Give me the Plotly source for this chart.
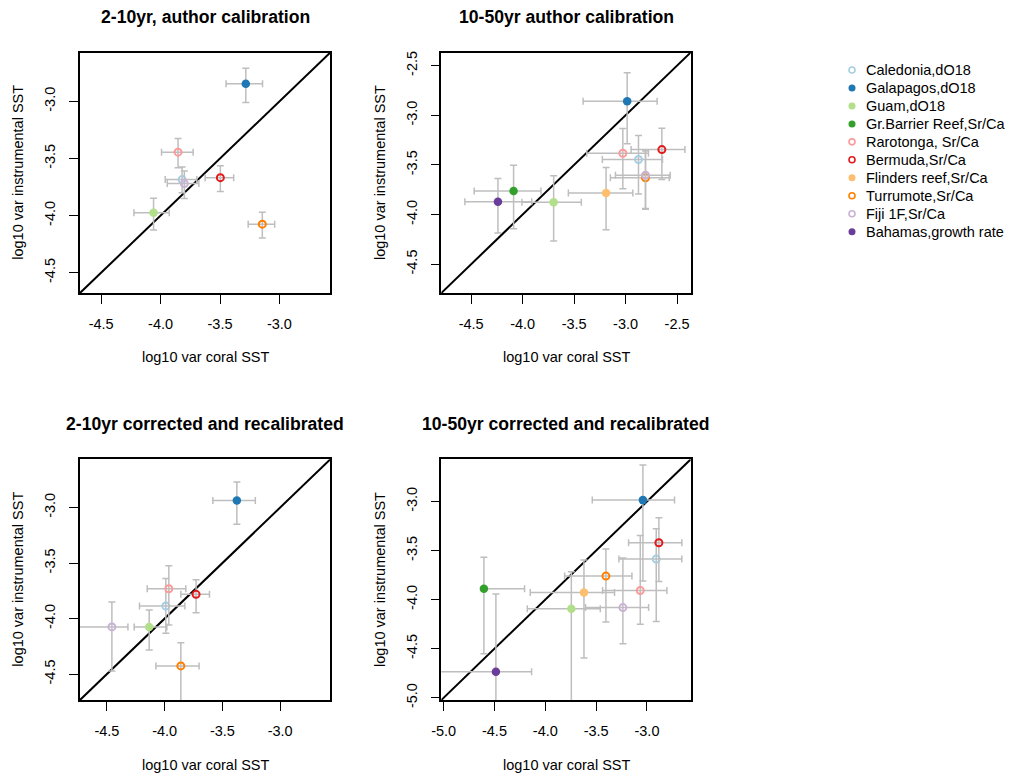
import plotly.graph_objects as go

FONT = "Liberation Sans, Arial, Helvetica, sans-serif"

# ---------------- data ----------------
sites = ["Caledonia,dO18", "Galapagos,dO18", "Guam,dO18", "Gr.Barrier Reef,Sr/Ca",
         "Rarotonga, Sr/Ca", "Bermuda,Sr/Ca", "Flinders reef,Sr/Ca", "Turrumote,Sr/Ca",
         "Fiji 1F,Sr/Ca", "Bahamas,growth rate"]
site_colors = ["#A6CEE3", "#1F78B4", "#B2DF8A", "#33A02C", "#FB9A99",
               "#E31A1C", "#FDBF6F", "#FF7F00", "#CAB2D6", "#6A3D9A"]
site_filled = [False, True, True, True, False, False, True, False, False, True]

panel_titles = ["2-10yr, author calibration", "10-50yr author calibration",
                "2-10yr corrected and recalibrated", "10-50yr corrected and recalibrated"]

# Panel 1: 2-10yr, author calibration
p1_x   = [-3.819, -3.283, -4.059, None, -3.853, -3.497, None, -3.144, -3.800, None]
p1_xlo = [-3.961, -3.449, -4.224, None, -3.992, -3.625, None, -3.263, -3.944, None]
p1_xhi = [-3.695, -3.142, -3.927, None, -3.726, -3.385, None, -3.040, -3.678, None]
p1_y   = [-3.685, -2.846, -3.976, None, -3.445, -3.668, None, -4.075, -3.720, None]
p1_ylo = [-3.800, -3.009, -4.127, None, -3.581, -3.790, None, -4.197, -3.851, None]
p1_yhi = [-3.575, -2.709, -3.848, None, -3.325, -3.563, None, -3.970, -3.610, None]

# Panel 2: 10-50yr author calibration
p2_x   = [-2.875, -2.985, -3.699, -4.088, -3.027, -2.648, -3.190, -2.807, -2.807, -4.240]
p2_xlo = [-3.226, -3.413, -4.007, -4.471, -3.377, -2.947, -3.556, -3.148, -3.099, -4.561]
p2_xhi = [-2.642, -2.694, -3.430, -3.822, -2.778, -2.424, -2.930, -2.577, -2.567, -3.912]
p2_y   = [-3.446, -2.860, -3.876, -3.763, -3.383, -3.346, -3.783, -3.630, -3.603, -3.870]
p2_ylo = [-3.793, -3.286, -4.266, -4.143, -3.740, -3.646, -4.153, -3.946, -3.940, -4.186]
p2_yhi = [-3.203, -2.573, -3.610, -3.503, -3.133, -3.130, -3.526, -3.360, -3.350, -3.636]

# Panel 3: 2-10yr corrected and recalibrated
p3_x   = [-3.990, -3.375, -4.134, None, -3.964, -3.728, None, -3.860, -4.457, None]
p3_xlo = [-4.218, -3.583, -4.264, None, -4.151, -3.860, None, -4.076, -4.900, None]
p3_xhi = [-3.825, -3.215, -3.981, None, -3.817, -3.612, None, -3.702, -4.318, None]
p3_y   = [-3.887, -2.937, -4.075, None, -3.731, -3.782, None, -4.426, -4.075, None]
p3_ylo = [-4.132, -3.150, -4.282, None, -4.057, -3.947, None, -4.900, -4.471, None]
p3_yhi = [-3.640, -2.770, -3.923, None, -3.525, -3.650, None, -4.217, -3.851, None]

# Panel 4: 10-50yr corrected and recalibrated
p4_x   = [-2.909, -3.040, -3.744, -4.604, -3.066, -2.883, -3.620, -3.404, -3.237, -4.486]
p4_xlo = [-3.276, -3.538, -4.177, -4.604, -3.437, -3.181, -4.148, -3.810, -3.604, -5.200]
p4_xhi = [-2.657, -2.729, -3.459, -4.204, -2.804, -2.657, -3.319, -3.148, -2.984, -4.135]
p4_y   = [-3.587, -2.986, -4.094, -3.890, -3.907, -3.421, -3.928, -3.760, -4.081, -4.736]
p4_ylo = [-4.223, -3.810, -5.300, -4.552, -4.250, -3.815, -4.596, -4.229, -4.450, -5.300]
p4_yhi = [-3.278, -2.629, -3.717, -3.567, -3.347, -3.166, -3.597, -3.485, -3.577, -3.944]

panel_ranges = [[-4.678, -2.572], [-4.790, -2.368], [-4.733, -2.566], [-5.023, -2.570]]
p1_ticks = [-4.5, -4.0, -3.5, -3.0]
p2_ticks = [-4.5, -4.0, -3.5, -3.0, -2.5]
p3_ticks = [-4.5, -4.0, -3.5, -3.0]
p4_ticks = [-5.0, -4.5, -4.0, -3.5, -3.0]
panel_ticks = [p1_ticks, p2_ticks, p3_ticks, p4_ticks]

x_label = "log10 var coral SST"
y_label = "log10 var instrumental SST"

panels = [
    (p1_x, p1_xlo, p1_xhi, p1_y, p1_ylo, p1_yhi),
    (p2_x, p2_xlo, p2_xhi, p2_y, p2_ylo, p2_yhi),
    (p3_x, p3_xlo, p3_xhi, p3_y, p3_ylo, p3_yhi),
    (p4_x, p4_xlo, p4_xhi, p4_y, p4_ylo, p4_yhi),
]

# ---------------- layout geometry (pixels) ----------------
W, H = 1012, 776
boxes = [  # left, right, top, bottom
    (80.0, 330.3, 52.5, 293.0),
    (441.3, 690.7, 52.5, 293.0),
    (80.0, 330.3, 459.3, 700.0),
    (441.3, 690.7, 459.3, 700.0),
]
ERR_COLOR = "#BEBEBE"

fig = go.Figure()

def fmt(v):
    return ("%.1f" % v)

for k, (data, rng, ticks, title) in enumerate(zip(panels, panel_ranges, panel_ticks, panel_titles)):
    xs, xlo, xhi, ys, ylo, yhi = data
    ax = "" if k == 0 else str(k + 1)
    xref, yref = "x" + ax, "y" + ax
    # diagonal 1:1 line
    fig.add_trace(go.Scatter(x=rng, y=rng, mode="lines", xaxis=xref, yaxis=yref,
                             line=dict(color="black", width=2), showlegend=False,
                             hoverinfo="skip"))
    for i, name in enumerate(sites):
        if xs[i] is None:
            continue
        filled = site_filled[i]
        marker = dict(color=site_colors[i],
                      symbol="circle" if filled else "circle-open",
                      size=8.5 if filled else 7,
                      line=dict(width=0 if filled else 2, color=site_colors[i]))
        fig.add_trace(go.Scatter(
            x=[xs[i]], y=[ys[i]], mode="markers", name=name, xaxis=xref, yaxis=yref,
            marker=marker, showlegend=False,
            error_x=dict(type="data", symmetric=False, array=[xhi[i] - xs[i]],
                         arrayminus=[xs[i] - xlo[i]], color=ERR_COLOR,
                         thickness=1.5, width=3.5),
            error_y=dict(type="data", symmetric=False, array=[yhi[i] - ys[i]],
                         arrayminus=[ys[i] - ylo[i]], color=ERR_COLOR,
                         thickness=1.5, width=3.5),
        ))
    l, r, t, b = boxes[k]
    common = dict(range=rng, showline=True, mirror=True, linecolor="black", linewidth=1.5,
                  ticks="outside", ticklen=9, tickwidth=1, tickcolor="black",
                  showgrid=False, zeroline=False, tickvals=ticks, automargin=False,
                  ticktext=[fmt(v) for v in ticks],
                  tickfont=dict(family=FONT, size=14.5, color="black"),
                  ticklabelstandoff=8)
    fig.update_layout(**{
        "xaxis" + ax: dict(domain=[l / W, r / W], anchor=yref, **common),
        "yaxis" + ax: dict(domain=[1 - b / H, 1 - t / H], anchor=xref, tickangle=-90, **common),
    })
    cx = (l + r) / 2 / W
    cy = 1 - (t + b) / 2 / H
    fig.add_annotation(text="<b>%s</b>" % title, x=cx, y=1 - (t - 35.5) / H, xref="paper",
                       yref="paper", showarrow=False, xanchor="center", yanchor="middle",
                       font=dict(family=FONT, size=17.6, color="black"))
    fig.add_annotation(text=x_label, x=cx, y=1 - (b + 64.5) / H, xref="paper", yref="paper",
                       showarrow=False, xanchor="center", yanchor="middle",
                       font=dict(family=FONT, size=14.5, color="black"))
    fig.add_annotation(text=y_label, x=(l - 62) / W, y=cy, xref="paper", yref="paper",
                       showarrow=False, xanchor="center", yanchor="middle", textangle=-90,
                       font=dict(family=FONT, size=14.5, color="black"))

# ---------------- legend (hidden axis, one row per site) ----------------
leg_idx = list(range(len(sites)))
for i in leg_idx:
    filled = site_filled[i]
    fig.add_trace(go.Scatter(
        x=[0], y=[i], mode="markers", xaxis="x5", yaxis="y5", showlegend=False,
        hoverinfo="skip",
        marker=dict(color=site_colors[i], symbol="circle" if filled else "circle-open",
                    size=7 if filled else 6, line=dict(width=0 if filled else 1.6,
                                                       color=site_colors[i]))))
    fig.add_annotation(text=sites[i], x=12, y=i, xref="x5", yref="y5", showarrow=False,
                       xanchor="left", yanchor="middle",
                       font=dict(family=FONT, size=14.5, color="black"))
row_h = 17.96
leg_top = 70 - row_h / 2
leg_bot = leg_top + row_h * len(sites)
fig.update_layout(
    xaxis5=dict(domain=[840 / W, 1.0], range=[-12, 160], visible=False, anchor="y5",
                automargin=False),
    yaxis5=dict(domain=[1 - leg_bot / H, 1 - leg_top / H], range=[len(sites) - 0.5, -0.5],
                visible=False, anchor="x5", automargin=False),
)

fig.update_layout(template="none", width=W, height=H, margin=dict(l=0, r=0, t=0, b=0),
                  paper_bgcolor="white", plot_bgcolor="white", showlegend=False,
                  font=dict(family=FONT, color="black"))

fig.write_html("out.html", config={"displayModeBar": False},
               post_script="document.body.style.margin='0';document.body.style.padding='0';")
